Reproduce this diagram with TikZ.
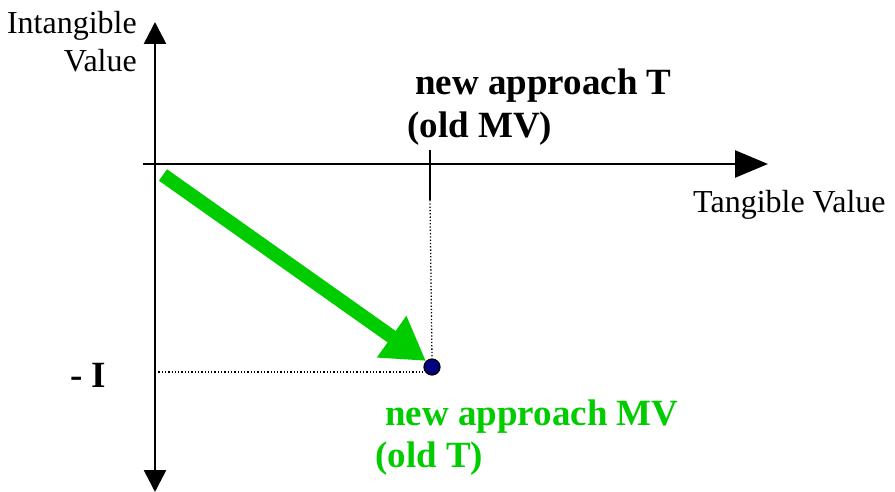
\documentclass[tikz,border=0pt]{standalone}
\usepackage{fontspec}
\setmainfont{Liberation Serif}
\usetikzlibrary{arrows.meta,positioning}
\definecolor{movegreen}{HTML}{00CC00}
\definecolor{dotblue}{HTML}{000080}

\begin{document}
\begin{tikzpicture}[x=1pt,y=-1pt,
  axis/.style={line width=2.6pt,-{Triangle[length=22pt,width=22pt]}},
  guide/.style={line width=1.3pt,dotted},
  plain/.style={font=\fontsize{32}{38}\selectfont,inner sep=0pt},
  heavy/.style={font=\fontsize{37}{42}\selectfont\bfseries,inner sep=0pt}]
  \useasboundingbox (0,0) rectangle (895,492);

  % axes
  \coordinate (origin) at (155,164);
  \coordinate (ytop) at (155,22);
  \coordinate (ybot) at (155,492);
  \coordinate (xleft) at (143,164);
  \coordinate (xright) at (768,164);
  \draw[axis] (origin) -- (ytop);
  \draw[axis] (origin) -- (ybot);
  \draw[line width=2.6pt,-{Triangle[length=33pt,width=27pt]}] (xleft) -- (xright);

  % tick and guides
  \coordinate (ticktop) at (430,150);
  \coordinate (tickbot) at (430,200);
  \coordinate (yproj) at (155,372);
  \node[circle,draw=black,line width=1.2pt,fill=dotblue,minimum size=16pt,inner sep=0pt] (pt) at (432,367) {};
  \draw[line width=2.6pt] (ticktop) -- (tickbot);
  \draw[guide] (tickbot) -- (pt.north);
  \draw[guide] (yproj) -- (pt.west |- yproj);

  % the move
  \coordinate (start) at (163,175);
  \draw[movegreen,line width=14pt,-{Triangle[length=42pt,width=48pt]}] (start) -- (pt.north west);

  % labels
  \node[plain,align=right,anchor=base east] (ylab) at (137,72) {Intangible\\Value};
  \node[plain,anchor=base west] (xlab) at (693,213) {Tangible Value};
  \node[heavy,anchor=base west] (tnew) at (415,95) {new approach T};
  \node[heavy,anchor=base west] (told) at (407,138) {(old MV)};
  \node[heavy,anchor=base west] (ilab) at (70,387) {- I};
  \node[heavy,movegreen,anchor=base west] (mvnew) at (385,425) {new approach MV};
  \node[heavy,movegreen,anchor=base west] (mvold) at (375,467) {(old T)};
\end{tikzpicture}
\end{document}
